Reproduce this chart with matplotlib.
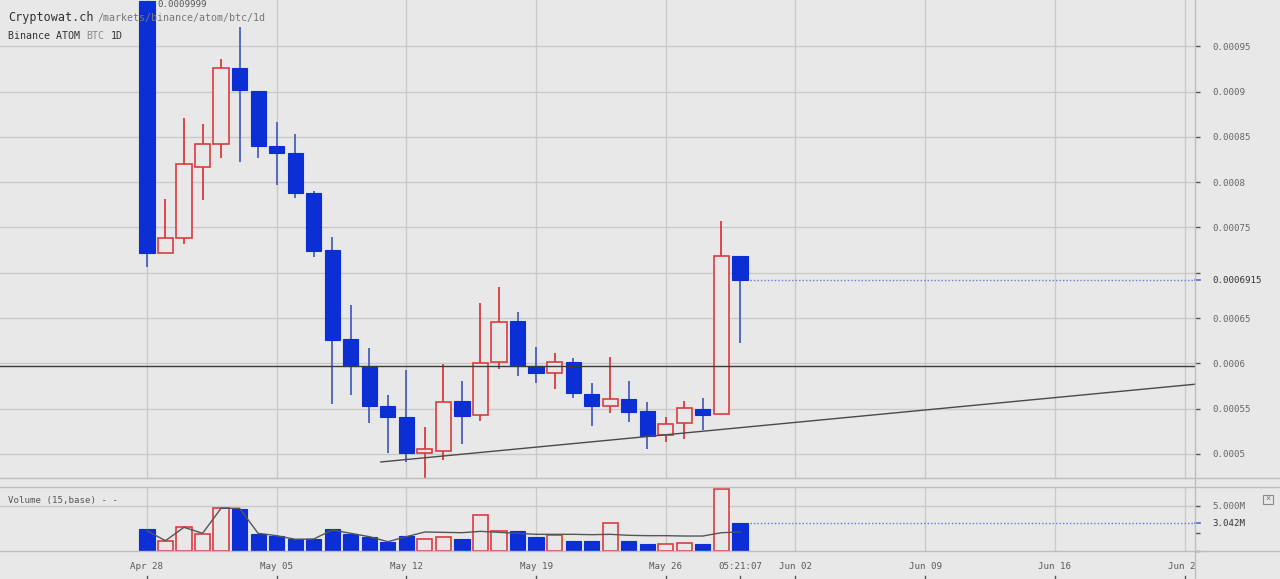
import numpy as np
import pandas as pd
import matplotlib
matplotlib.use("Agg")
import matplotlib.pyplot as plt
import matplotlib.dates as mdates
import matplotlib.transforms as mtransforms
from matplotlib.lines import Line2D
from matplotlib.patches import Rectangle

# ---------------- data ----------------
dates = pd.date_range("2019-04-28", "2019-05-30", freq="D")
opens = [0.0009999, 0.0007219, 0.0007384, 0.0008168, 0.0008422, 0.0009261, 0.0009007,
         0.0008400, 0.0008322, 0.0007881, 0.0007252, 0.0006269, 0.0005971, 0.0005530,
         0.0005408, 0.0005011, 0.0005033, 0.0005585, 0.0005430, 0.0006015, 0.0006468,
         0.0005971, 0.0005894, 0.0006015, 0.0005662, 0.0005530, 0.0005607, 0.0005475,
         0.0005210, 0.0005342, 0.0005497, 0.0005442, 0.0007186]
highs = [0.0009999, 0.0007815, 0.0008709, 0.0008643, 0.0009360, 0.0009713, 0.0009007,
         0.0008665, 0.0008532, 0.0007903, 0.0007395, 0.0006645, 0.0006170, 0.0005651,
         0.0005927, 0.0005298, 0.0005993, 0.0005806, 0.0006667, 0.0006843, 0.0006567,
         0.0006181, 0.0006115, 0.0006060, 0.0005784, 0.0006071, 0.0005806, 0.0005574,
         0.0005408, 0.0005585, 0.0005618, 0.0007572, 0.0007186]
lows = [0.0007064, 0.0007219, 0.0007318, 0.0007804, 0.0008267, 0.0008223, 0.0008267,
        0.0007969, 0.0007826, 0.0007175, 0.0005552, 0.0005651, 0.0005342, 0.0005011,
        0.0004912, 0.0004725, 0.0004934, 0.0005110, 0.0005364, 0.0005938, 0.0005861,
        0.0005784, 0.0005717, 0.0005618, 0.0005309, 0.0005453, 0.0005353, 0.0005055,
        0.0005132, 0.0005166, 0.0005265, 0.0005442, 0.0006225]
closes = [0.0007219, 0.0007384, 0.0008200, 0.0008422, 0.0009261, 0.0009018, 0.0008400,
          0.0008322, 0.0007881, 0.0007241, 0.0006258, 0.0005971, 0.0005530, 0.0005408,
          0.0005011, 0.0005055, 0.0005574, 0.0005419, 0.0006004, 0.0006457, 0.0005971,
          0.0005894, 0.0006015, 0.0005673, 0.0005530, 0.0005607, 0.0005464, 0.0005199,
          0.0005331, 0.0005508, 0.0005430, 0.0007186, 0.0006915]
volumes_m = [2.40, 1.10, 2.59, 1.85, 4.70, 4.66, 1.85, 1.62, 1.26, 1.29, 2.40, 1.88, 1.48,
             0.96, 1.57, 1.26, 1.48, 1.29, 3.93, 2.21, 2.15, 1.48, 1.70, 1.03, 1.03, 3.07,
             1.03, 0.73, 0.70, 0.81, 0.73, 6.82, 3.042]
volume_ma_m = [2.21, 1.10, 2.59, 1.92, 4.70, 4.70, 1.92, 1.66, 1.26, 1.29, 2.29, 1.92, 1.55,
               0.99, 1.55, 2.07, 2.03, 1.99, 2.14, 2.03, 1.92, 1.81, 1.81, 1.81, 1.77, 1.81,
               1.70, 1.66, 1.66, 1.62, 1.62, 1.99, 2.07]

price_ticks = [0.0005, 0.00055, 0.0006, 0.00065, 0.0007, 0.00075, 0.0008, 0.00085, 0.0009, 0.00095]
price_labels = ["0.0005", "0.00055", "0.0006", "0.00065", "", "0.00075", "0.0008", "0.00085", "0.0009", "0.00095"]
last_price = 0.0006915
last_price_label = "0.0006915"
last_volume = 3.042
last_volume_label = "3.042M"
vol_ticks = [0, 2, 5]
vol_labels = ["-", "", "5.000M"]
week_dates = pd.date_range("2019-04-28", "2019-06-23", freq="7D")
week_labels = ["Apr 28", "May 05", "May 12", "May 19", "May 26", "Jun 02", "Jun 09", "Jun 16", "Jun 23"]
now_label = "05:21:07"
high_label = "0.0009999"
low_label = "0.0004725"
support_level = 0.000597
trend_start = (pd.Timestamp("2019-05-10 15:00"), 0.0004912)
trend_end = (pd.Timestamp("2019-06-23 13:30"), 0.0005770)

# ---------------- style ----------------
BG = "#e8e8e8"
GRID = "#cacaca"
FRAME = "#bdbdbd"
BLUE = "#0b2fd4"
BLUE_WICK = "#4b5fbf"
RED = "#dc3a3e"
TXT = "#5a5a5a"
MONO = "DejaVu Sans Mono"
plt.rcParams["font.family"] = [MONO]

W, H = 1280, 579
fig = plt.figure(figsize=(W / 100, H / 100), dpi=100, facecolor=BG)


def fx(px):
    return px / W


def fy(py):
    return 1 - py / H


ax = fig.add_axes([0, fy(478), fx(1195), fy(0) - fy(478)], facecolor=BG)
axv = fig.add_axes([0, fy(551), fx(1195), fy(487) - fy(551)], facecolor=BG)
axd = fig.add_axes([0, 0, fx(1195), fy(551)], facecolor=BG)

x = mdates.date2num(dates)
x0 = x[0]
xlim = (x0 - 7.93, x0 + 56.56)
for a in (ax, axv, axd):
    a.set_xlim(*xlim)
    for s in a.spines.values():
        s.set_visible(False)
    a.set_xticks([])

ax.set_ylim(0.0004735, 0.0010011)
axv.set_ylim(-0.044, 7.07)
axd.set_ylim(0, 1)
axd.set_yticks([])

wx = mdates.date2num(week_dates)
# grid
for a in (ax, axv):
    for w in wx:
        a.axvline(w, color=GRID, lw=1, zorder=0)
for t in price_ticks:
    ax.axhline(t, color=GRID, lw=1, zorder=0)
axv.axhline(5, color=GRID, lw=1, zorder=0)

# candles
width = 0.82
for xi, o, h, l, c in zip(x, opens, highs, lows, closes):
    up = c > o
    ax.vlines(xi, l, h, color=RED if up else BLUE_WICK, lw=1.3, zorder=2)
    bottom = min(o, c)
    height = max(abs(c - o), 1.5e-6)
    if up:
        ax.bar(xi, height, width=width, bottom=bottom, color=BG, edgecolor=RED, linewidth=1.2, zorder=3)
    else:
        ax.bar(xi, height, width=width, bottom=bottom, color=BLUE, edgecolor=BLUE, linewidth=0.8, zorder=3)

# support and trend lines
ax.axhline(support_level, color="#3a3a3a", lw=1.0, zorder=4)
ax.plot([mdates.date2num(trend_start[0]), mdates.date2num(trend_end[0])],
        [trend_start[1], trend_end[1]], color="#4a4a4a", lw=1.0, zorder=4)
# last price dotted line
ax.plot([x[-1] + 0.54, xlim[1]], [last_price, last_price], color="#6a78d0", lw=1.0,
        ls=(0, (1, 1.5)), zorder=4)

# high / low annotations
ax.annotate(high_label, xy=(x[0], highs[0]), xytext=(10, -3), textcoords="offset pixels",
            ha="left", va="center", fontsize=6.6, color=TXT, zorder=6)
ax.annotate(low_label, xy=(x[15], lows[15]), xytext=(11, 5), textcoords="offset pixels",
            ha="left", va="center", fontsize=6.6, color=TXT, zorder=6)

# right axis of price
ax.yaxis.tick_right()
ax.set_yticks(price_ticks)
ax.set_yticklabels(price_labels)
ax.tick_params(axis="y", direction="out", length=3.6, width=1, color="#555555",
               pad=8.6, labelsize=6.6, labelcolor="#666666")
btr = mtransforms.blended_transform_factory(ax.transAxes, ax.transData)
ax.add_line(Line2D([1.0, 1.0 + 5 / 1195], [last_price, last_price], transform=btr,
                   color="#5a68c8", lw=1.2, clip_on=False))
ax.text(1.0 + 17 / 1195, last_price, last_price_label, transform=btr, ha="left", va="center",
        fontsize=6.6, color="#333333", clip_on=False)

# volume
for xi, o, c, v in zip(x, opens, closes, volumes_m):
    up = c > o
    if up:
        axv.bar(xi, v, width=width, bottom=0, color=BG, edgecolor=RED, linewidth=1.2, zorder=3)
    else:
        axv.bar(xi, v, width=width, bottom=0, color=BLUE, edgecolor=BLUE, linewidth=0.8, zorder=3)
axv.plot(x, volume_ma_m, color="#555555", lw=1.0, zorder=4)
axv.plot([x[-1] + 0.54, xlim[1]], [last_volume, last_volume], color="#6a78d0", lw=1.0,
         ls=(0, (1, 1.5)), zorder=4)
axv.yaxis.tick_right()
axv.set_yticks(vol_ticks)
axv.set_yticklabels(vol_labels)
axv.tick_params(axis="y", direction="out", length=3.6, width=1, color="#555555",
                pad=8.6, labelsize=6.6, labelcolor="#666666")
btv = mtransforms.blended_transform_factory(axv.transAxes, axv.transData)
axv.add_line(Line2D([1.0, 1.0 + 5 / 1195], [last_volume, last_volume], transform=btv,
                    color="#5a68c8", lw=1.2, clip_on=False))
axv.text(1.0 + 17 / 1195, last_volume, last_volume_label, transform=btv, ha="left", va="center",
         fontsize=6.6, color="#333333", clip_on=False)
axv.text(8 / 1195, 1 - 13.5 / 64, "Volume (15,base) - -", transform=axv.transAxes,
         ha="left", va="center", fontsize=6.6, color="#555555")

# date labels
for w, lab in zip(wx, week_labels):
    axd.text(w, 0.446, lab, ha="center", va="center", fontsize=6.6, color=TXT, clip_on=True)
    axd.plot([w, w], [0, 0.11], color="#555555", lw=1, clip_on=False)
axd.text(x[-1], 0.446, now_label, ha="center", va="center", fontsize=6.6, color=TXT, clip_on=True)
axd.plot([x[-1], x[-1]], [0, 0.11], color="#555555", lw=1, clip_on=False)

# frame lines
for py in (478, 487, 551):
    fig.add_artist(Line2D([0, 1], [fy(py), fy(py)], transform=fig.transFigure, color=FRAME, lw=1))
fig.add_artist(Line2D([fx(1195), fx(1195)], [0, 1], transform=fig.transFigure, color=FRAME, lw=1))

# close box
fig.add_artist(Rectangle((fx(1263), fy(504)), fx(10), fy(495) - fy(504), transform=fig.transFigure,
                         facecolor="none", edgecolor="#8a8a8a", lw=0.8))
fig.text(fx(1268), fy(499.5), "×", ha="center", va="center", fontsize=6, color="#777777")

# titles
fig.text(fx(8), fy(17), "Cryptowat.ch", ha="left", va="center", fontsize=8.5, color="#333333")
fig.text(fx(97), fy(18), "/markets/binance/atom/btc/1d", ha="left", va="center", fontsize=7.2,
         color="#777777")
fig.text(fx(8), fy(36), "Binance ATOM", ha="left", va="center", fontsize=7.2, color="#333333")
fig.text(fx(86.5), fy(36), "BTC", ha="left", va="center", fontsize=7.2, color="#8a8a8a")
fig.text(fx(110.7), fy(36), "1D", ha="left", va="center", fontsize=7.2, color="#333333")

fig.savefig("out.png", dpi=100, facecolor=BG)
